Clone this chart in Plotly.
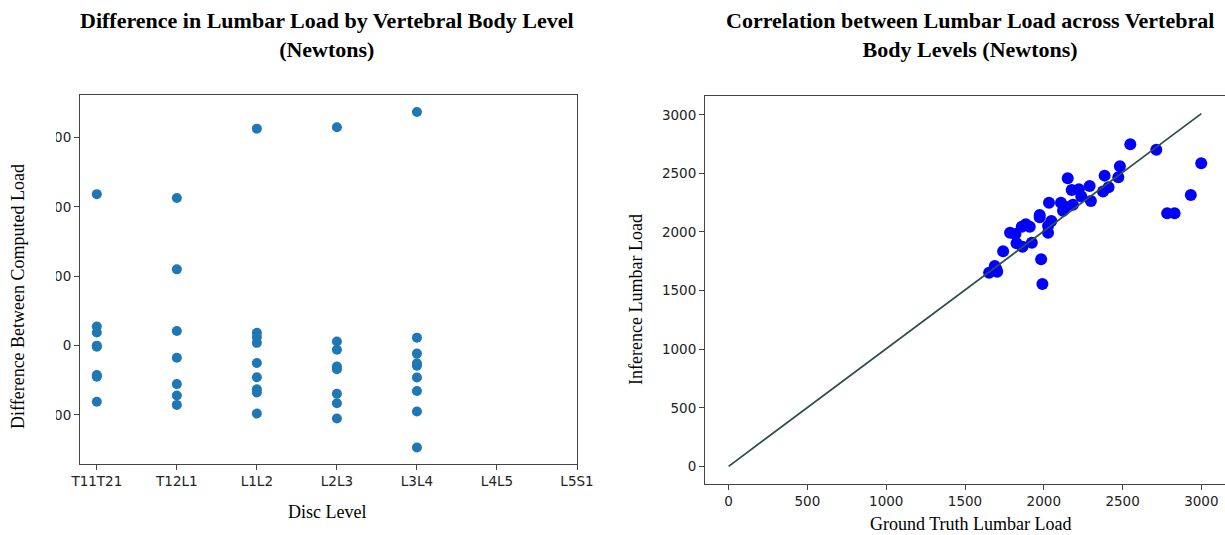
import plotly.graph_objects as go

W, H = 1225, 535

# ---------------- data ----------------
disc_levels = ["T11T21", "T12L1", "L1L2", "L2L3", "L3L4", "L4L5", "L5S1"]
diff_T11T21 = [437, 55, 38, 0, -3, -85, -90, -162]
diff_T12L1 = [426, 220, 42, -35, -111, -144, -171]
diff_L1L2 = [626, 37, 25, 8, -50, -91, -126, -135, -196]
diff_L2L3 = [630, 12, -12, -60, -68, -139, -166, -210]
diff_L3L4 = [674, 23, -23, -51, -58, -92, -131, -190, -294]

ground_truth = [2549, 2714, 2999, 2933, 2783, 2830, 2483, 2473, 2386, 2411,
                2376, 2291, 2299, 2238, 2223, 2177, 2152, 2185, 2137, 2109,
                2122, 2033, 2048, 2027, 1974, 1974, 2027, 1911, 1886, 1860,
                1924, 1820, 1786, 1827, 1865, 1983, 1991, 1742, 1689, 1704,
                1653, 1700]
inference = [2749, 2701, 2587, 2316, 2160, 2160, 2561, 2467, 2481, 2382,
             2345, 2393, 2265, 2302, 2365, 2359, 2459, 2233, 2216, 2250,
             2182, 2250, 2094, 1994, 2145, 2125, 2051, 2045, 2066, 2045,
             1909, 1983, 1994, 1903, 1875, 1767, 1556, 1835, 1709, 1661,
             1652, 1680]

identity_x = [0, 3000]
identity_y = [0, 3010]

left_yticks = [-200, 0, 200, 400, 600]
right_ticks = [0, 500, 1000, 1500, 2000, 2500, 3000]

# ---------------- figure ----------------
groups = [("T11T21", diff_T11T21), ("T12L1", diff_T12L1), ("L1L2", diff_L1L2),
          ("L2L3", diff_L2L3), ("L3L4", diff_L3L4)]
lx, ly = [], []
for name, vals in groups:
    lx += [name] * len(vals)
    ly += vals

fig = go.Figure()
fig.add_trace(go.Scatter(x=lx, y=ly, mode="markers", xaxis="x", yaxis="y",
                         marker=dict(color="#1f77b4", size=10, line=dict(width=0)),
                         showlegend=False, hoverinfo="skip"))
fig.add_trace(go.Scatter(x=ground_truth, y=inference, mode="markers", xaxis="x2", yaxis="y2",
                         marker=dict(color="blue", size=12, line=dict(width=0)),
                         showlegend=False, hoverinfo="skip"))
fig.add_trace(go.Scatter(x=identity_x, y=identity_y, mode="lines", xaxis="x2", yaxis="y2",
                         line=dict(color="#2f4f4f", width=1.8),
                         showlegend=False, hoverinfo="skip"))

tick_font = dict(family="DejaVu Sans", size=13.5, color="#222222")
axis_common = dict(showline=True, linecolor="#444444", linewidth=1,
                   ticks="outside", ticklen=5, tickwidth=1, tickcolor="#444444",
                   showgrid=False, zeroline=False, tickfont=tick_font,
                   automargin=False)

fig.update_layout(
    width=W, height=H, autosize=False,
    margin=dict(l=0, r=0, t=0, b=0, pad=0, autoexpand=False),
    paper_bgcolor="white", plot_bgcolor="white",
    xaxis=dict(domain=[80 / W, 577 / W], anchor="y", type="category",
               categoryorder="array", categoryarray=disc_levels,
               tickvals=disc_levels, range=[-0.21, 6.0], mirror=True, **axis_common),
    yaxis=dict(domain=[1 - 463.5 / H, 1 - 95 / H], anchor="x",
               range=[-340, 723], tickvals=left_yticks, mirror=True, **axis_common),
    xaxis2=dict(domain=[705 / W, 1.0], anchor="y2", range=[-150, 3150],
                tickvals=right_ticks, mirror=True, **axis_common),
    yaxis2=dict(domain=[1 - 484 / H, 1 - 96 / H], anchor="x2", range=[-150.5, 3160.5],
                tickvals=right_ticks, mirror=False, **axis_common),
)

title_font = dict(family="Liberation Serif", size=22, color="black")
label_font = dict(family="Liberation Serif", size=18, color="black")

def px_x(v):
    return v / W

def px_y(v):
    return 1 - v / H

annotations = [
    dict(text="<b>Difference in Lumbar Load by Vertebral Body Level<br>(Newtons)</b>",
         x=px_x(327), y=px_y(35), font=title_font),
    dict(text="<b>Correlation between Lumbar Load across Vertebral<br>Body Levels (Newtons)</b>",
         x=px_x(970), y=px_y(35), font=title_font),
    dict(text="Disc Level", x=px_x(327), y=px_y(512), font=label_font),
    dict(text="Ground Truth Lumbar Load", x=px_x(971), y=px_y(524), font=label_font),
    dict(text="Difference Between Computed Load", x=px_x(18), y=px_y(297),
         font=label_font, textangle=-90),
    dict(text="Inference Lumbar Load", x=px_x(636), y=px_y(300),
         font=label_font, textangle=-90),
]
for a in annotations:
    a.update(xref="paper", yref="paper", xanchor="center", yanchor="middle",
             showarrow=False)
fig.update_layout(annotations=annotations)

# the left tick labels are cut off in the reference image
fig.add_shape(type="rect", xref="paper", yref="paper",
              x0=px_x(28), x1=px_x(56), y0=px_y(440), y1=px_y(100),
              fillcolor="white", line=dict(width=0), layer="above")

fig.write_html("out.html")
